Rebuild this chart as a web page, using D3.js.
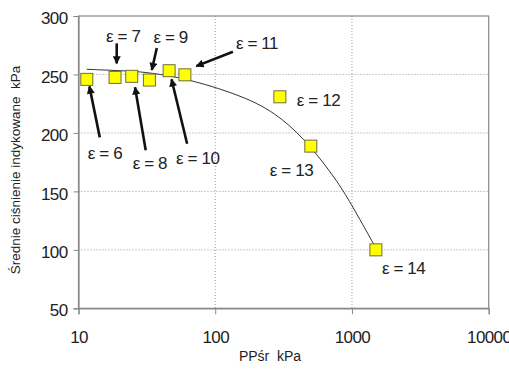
<!DOCTYPE html>
<head>
<meta charset="utf-8">
<script src="https://d3js.org/d3.v7.min.js"></script>
<style>
  body { margin: 0; background: #fff; }
  text { font-family: "Liberation Sans", Arial, sans-serif; fill: #222; }
</style>
</head>
<body>
<script>
  // measured points: compression ratio, mean effective pressure vs PPśr
  const eps = [6, 7, 8, 9, 10, 11, 12, 13, 14];
  const ppsr = [11.5, 18.5, 24.5, 33, 46, 60, 297, 500, 1496];
  const pmi = [245.8, 247.5, 248.4, 245.2, 253.2, 249.7, 230.9, 188.7, 100];

  // trend line
  const trendX = [11.5, 24.5, 33, 61.8, 179.5, 314, 500, 771, 964, 1496];
  const trendY = [254.4, 252.9, 251.5, 246.7, 229.8, 212.2, 188.7, 159.6, 141.5, 101.5];

  const xTicks = [10, 100, 1000, 10000];
  const yTicks = [50, 100, 150, 200, 250, 300];

  // label offsets (px from marker centre) and arrows [x1, y1, x2, y2]
  const labelOff = [[1, 74], [-9, -41], [1, 87], [4, -43], [7, 87], [51, -32], [17, 3], [-41, 24], [6, 18]];
  const arrows = [[13, 58, 2.6, 7], [1.7, -34, 1.7, -14], [14, 74, 3.3, 11], [7.4, -32, 2.4, -10],
                  [18, 73, 2.4, 8.5], [48, -23, 11.4, -8.7], null, null, null];

  const width = 509, height = 369;
  const mLeft = 78.5, mRight = 488.7, mTop = 16, mBottom = 308.3;

  const x = d3.scaleLog().domain([10, 10000]).range([mLeft, mRight]);
  const y = d3.scaleLinear().domain([50, 300]).range([mBottom, mTop]);

  const svg = d3.select("body").append("svg")
      .attr("width", width).attr("height", height);

  svg.append("defs").append("marker")
      .attr("id", "head")
      .attr("markerUnits", "userSpaceOnUse")
      .attr("viewBox", "0 0 10 10")
      .attr("refX", 9).attr("refY", 5)
      .attr("markerWidth", 9).attr("markerHeight", 8)
      .attr("orient", "auto")
    .append("path").attr("d", "M0,0L10,5L0,10z").attr("fill", "#111");

  // grid
  svg.append("g").selectAll("line").data(yTicks.slice(1, -1)).join("line")
      .attr("x1", mLeft).attr("x2", mRight)
      .attr("y1", d => y(d)).attr("y2", d => y(d))
      .attr("stroke", "#999").attr("stroke-dasharray", "1,2");
  svg.append("g").selectAll("line").data(xTicks.slice(1, -1)).join("line")
      .attr("x1", d => x(d)).attr("x2", d => x(d))
      .attr("y1", mTop).attr("y2", mBottom)
      .attr("stroke", "#999").attr("stroke-dasharray", "1,2");

  // frame
  svg.append("rect")
      .attr("x", mLeft).attr("y", mTop)
      .attr("width", mRight - mLeft).attr("height", mBottom - mTop)
      .attr("fill", "none").attr("stroke", "#888").attr("stroke-width", 1.2);

  const yAxis = svg.append("g").attr("transform", `translate(${mLeft},0)`)
      .call(d3.axisLeft(y).tickValues(yTicks).tickSize(5).tickPadding(6));
  const xAxis = svg.append("g").attr("transform", `translate(0,${mBottom})`)
      .call(d3.axisBottom(x).tickValues(xTicks).tickFormat(d3.format("d")).tickSize(6).tickPadding(17));
  [yAxis, xAxis].forEach(g => {
    g.select(".domain").attr("stroke", "#888").attr("stroke-width", 1.2);
    g.selectAll(".tick line").attr("stroke", "#888");
    g.selectAll(".tick text").attr("font-size", 17).attr("fill", "#222")
      .attr("font-family", "Liberation Sans, Arial, sans-serif").attr("letter-spacing", -0.6);
  });
  yAxis.selectAll(".tick text").attr("dy", "0.45em");

  // axis titles
  svg.append("text")
      .attr("transform", "translate(20,170) rotate(-90)")
      .attr("text-anchor", "middle").attr("font-size", 13.5)
      .text("Średnie ciśnienie indykowane\u00a0 kPa");
  svg.append("text")
      .attr("x", 270).attr("y", 361)
      .attr("text-anchor", "middle").attr("font-size", 14)
      .text("PPśr\u00a0 kPa");

  // trend curve
  const line = d3.line()
      .x((d, i) => x(trendX[i]))
      .y((d, i) => y(trendY[i]))
      .curve(d3.curveBasis);
  svg.append("path").datum(trendX)
      .attr("d", line)
      .attr("fill", "none").attr("stroke", "#333").attr("stroke-width", 1);

  // markers
  const pts = eps.map((e, i) => ({ e, px: x(ppsr[i]), py: y(pmi[i]), i }));
  svg.append("g").selectAll("rect").data(pts).join("rect")
      .attr("x", d => d.px - 6).attr("y", d => d.py - 6)
      .attr("width", 12).attr("height", 12)
      .attr("fill", "#ffff00").attr("stroke", "#6e6e40").attr("stroke-width", 1);

  // arrows and labels
  svg.append("g").selectAll("line").data(pts.filter(d => arrows[d.i])).join("line")
      .attr("x1", d => d.px + arrows[d.i][0]).attr("y1", d => d.py + arrows[d.i][1])
      .attr("x2", d => d.px + arrows[d.i][2]).attr("y2", d => d.py + arrows[d.i][3])
      .attr("stroke", "#111").attr("stroke-width", 2.6)
      .attr("marker-end", "url(#head)");

  svg.append("g").selectAll("text").data(pts).join("text")
      .attr("x", d => d.px + labelOff[d.i][0])
      .attr("y", d => d.py + labelOff[d.i][1])
      .attr("dy", "0.35em")
      .attr("font-size", 17).attr("letter-spacing", -0.4)
      .text(d => "ε = " + d.e);
</script>
</body>
